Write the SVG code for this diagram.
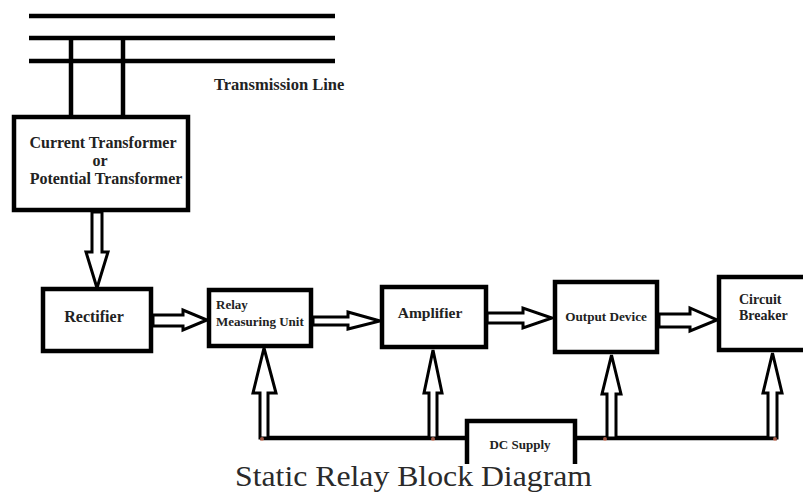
<svg xmlns="http://www.w3.org/2000/svg" width="803" height="495" viewBox="0 0 803 495">
<style>
.box{fill:#fff;stroke:#000;stroke-width:4.5}
.wire{fill:none;stroke:#000;stroke-width:4.5}
.arr{fill:#fff;stroke:#000;stroke-width:3;stroke-linejoin:miter}
.lbl{font-family:"Liberation Serif","Times New Roman",serif;font-weight:bold;fill:#222}
.cap{font-family:"Liberation Serif","Times New Roman",serif;fill:#2a2a2a}
.dot{fill:#e07a5f;opacity:0.7}
</style>
<rect width="803" height="495" fill="#fff"/>
<g id="transmission-line">
<line class="wire" x1="29" y1="16" x2="335" y2="16"/>
<line class="wire" x1="29" y1="38" x2="335" y2="38"/>
<line class="wire" x1="29" y1="61" x2="335" y2="61"/>
<text class="lbl" x="214" y="90" font-size="16.5">Transmission Line</text>
</g>
<g id="connectors">
<line class="wire" x1="71" y1="38" x2="71" y2="116" stroke-width="5"/>
<line class="wire" x1="123" y1="36" x2="123" y2="116" stroke-width="5"/>
<polygon class="arr" points="92,212 102,212 102,252 108,252 97,288 86,252 92,252"/>
<polygon class="arr" points="153,315 183,315 183,310 207,320 183,330 183,326 153,326"/>
<polygon class="arr" points="313,317 348,317 348,312 380,321 348,329 348,325 313,325"/>
<polygon class="arr" points="487,313 523,313 523,308 552,318 523,328 523,323 487,323"/>
<polygon class="arr" points="659,314 690,314 690,308 717,320 690,331 690,327 659,327"/>
<path class="wire" d="M260,438 H467 M575,438 H777"/>
<polygon class="arr" points="260,438 260,393 253,393 264,348 276,393 268,393 268,438"/>
<polygon class="arr" points="429,438 429,393 424,393 433,350 442,393 437,393 437,438"/>
<polygon class="arr" points="607,438 607,394 602,394 611.5,355 621,394 616,394 616,438"/>
<polygon class="arr" points="768,438 768,393 763,393 772.5,353 782,393 777,393 777,438"/>
<circle class="dot" cx="262" cy="439" r="2"/>
<circle class="dot" cx="433" cy="439" r="2"/>
<circle class="dot" cx="605" cy="439" r="2"/>
<circle class="dot" cx="775" cy="439" r="2"/>
</g>
<g id="ct-pt">
<rect class="box" x="14" y="117" width="174" height="93"/>
<text class="lbl" x="103" y="148" font-size="16" text-anchor="middle">Current Transformer</text>
<text class="lbl" x="100" y="166" font-size="16" text-anchor="middle">or</text>
<text class="lbl" x="106" y="184" font-size="16" text-anchor="middle">Potential Transformer</text>
</g>
<g id="rectifier">
<rect class="box" x="43" y="289" width="108" height="62"/>
<text class="lbl" x="94" y="322" font-size="16" text-anchor="middle">Rectifier</text>
</g>
<g id="relay-measuring-unit">
<rect class="box" x="209" y="290" width="102" height="56"/>
<text class="lbl" x="216" y="309" font-size="13">Relay</text>
<text class="lbl" x="216" y="326" font-size="13">Measuring Unit</text>
</g>
<g id="amplifier">
<rect class="box" x="382" y="287" width="104" height="60"/>
<text class="lbl" x="430" y="318" font-size="15.5" text-anchor="middle">Amplifier</text>
</g>
<g id="output-device">
<rect class="box" x="555" y="282" width="102" height="70"/>
<text class="lbl" x="606" y="321" font-size="13.2" text-anchor="middle">Output Device</text>
</g>
<g id="circuit-breaker">
<rect class="box" x="719" y="277" width="100" height="73"/>
<text class="lbl" x="739" y="304" font-size="14">Circuit</text>
<text class="lbl" x="739" y="320" font-size="14">Breaker</text>
</g>
<g id="dc-supply">
<rect x="467" y="421" width="108" height="44" fill="#fff"/>
<path class="wire" d="M467,464 V421 H575 V464"/>
<text class="lbl" x="520" y="449" font-size="13" text-anchor="middle">DC Supply</text>
</g>
<text class="cap" x="235" y="486" font-size="30" textLength="357" lengthAdjust="spacingAndGlyphs">Static Relay Block Diagram</text>
</svg>
